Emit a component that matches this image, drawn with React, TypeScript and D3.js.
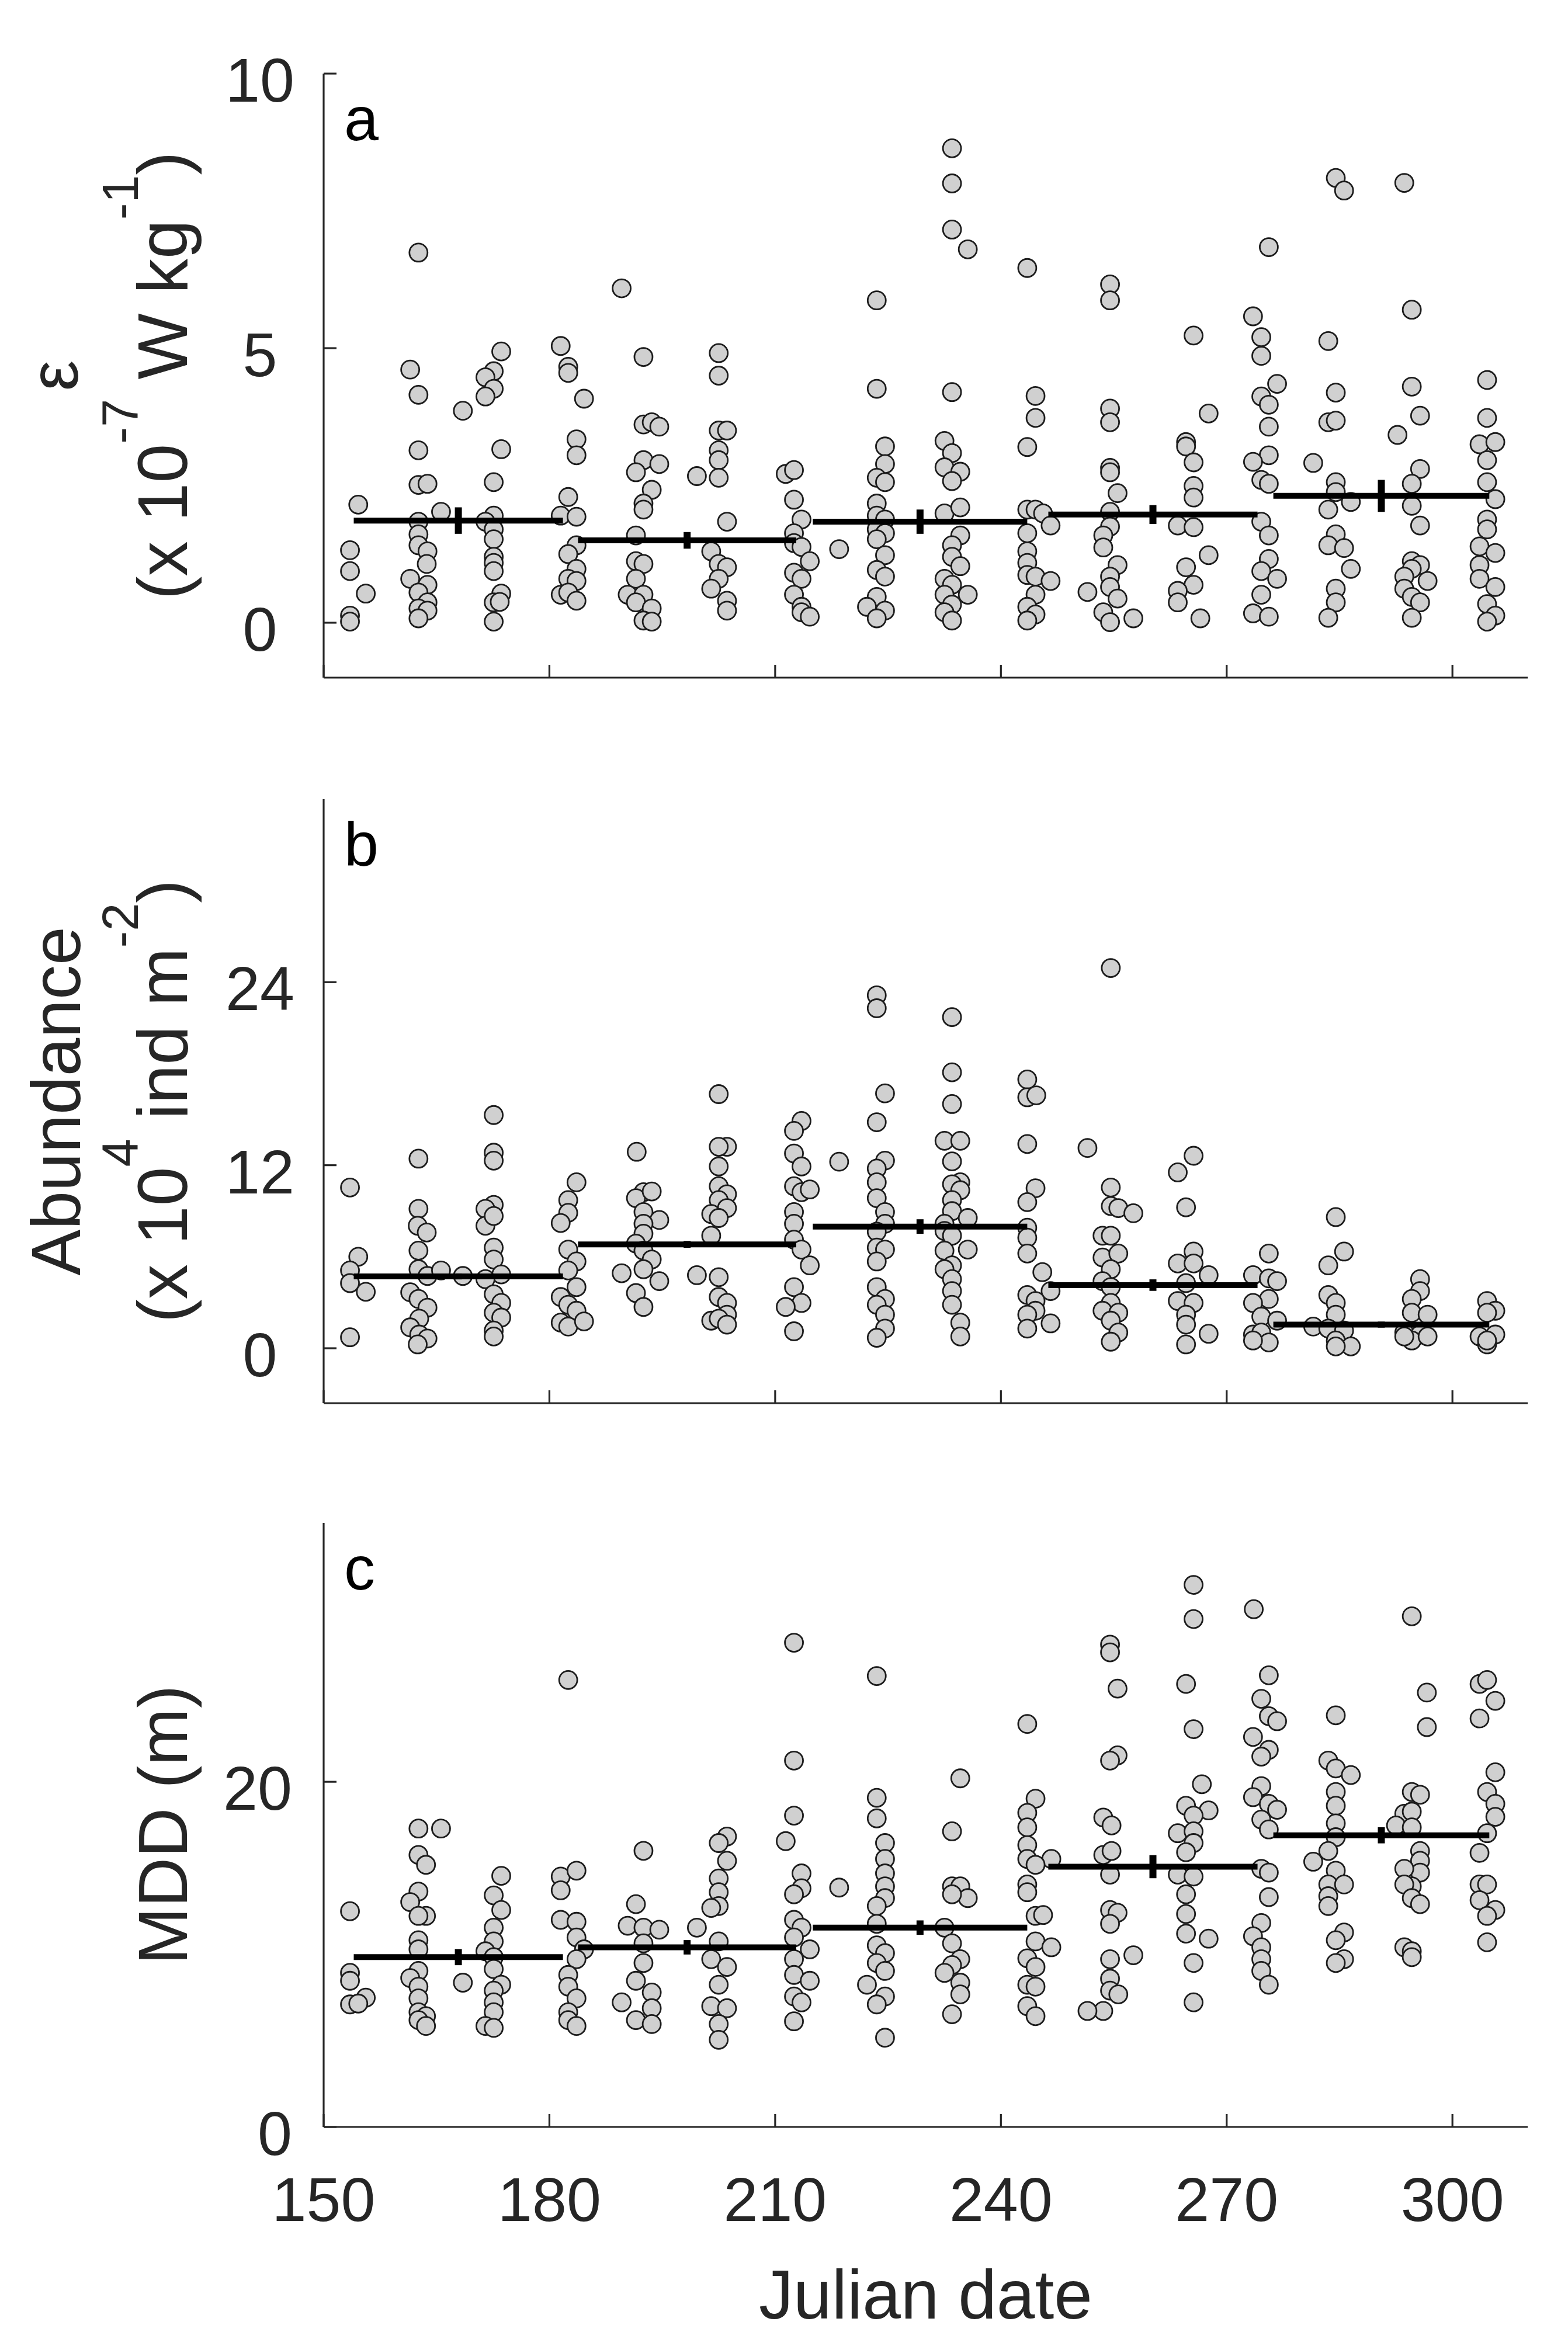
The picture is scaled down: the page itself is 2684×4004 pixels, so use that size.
import React from "react";
import * as d3 from "d3";

// month groups (Julian date span of each mean line)
const segStart = [154, 183.8, 215, 246.3, 276.2];
const segEnd = [181.8, 212.8, 243.5, 274.1, 304.9];

// panel a: dissipation rate (x 1e-7 W/kg)
const epsPoints: [number, number][] = [
  [154.6, 2.15], [153.5, 1.32], [153.5, 0.94], [155.6, 0.53], [153.5, 0.13], [153.5, 0.02],
  [162.6, 6.74], [161.5, 4.61], [162.6, 4.15], [162.6, 3.14], [162.6, 2.51], [163.8, 2.53], [162.6, 1.84], [162.6, 1.61], [162.6, 1.41], [163.8, 1.3], [163.7, 1.07], [161.5, 0.8], [163.8, 0.69], [162.6, 0.55], [163.8, 0.37], [162.6, 0.26], [163.8, 0.22], [162.6, 0.08],
  [165.6, 2.02], [168.5, 3.86],
  [173.6, 4.94], [172.6, 4.58], [171.5, 4.47], [172.6, 4.26], [171.5, 4.12], [173.6, 3.16], [172.6, 2.56], [172.6, 1.95], [171.5, 1.84], [172.6, 1.7], [172.6, 1.52], [172.6, 1.2], [172.6, 1.09], [172.6, 0.94], [173.6, 0.53], [172.6, 0.37], [173.4, 0.38], [172.6, 0.02],
  [181.5, 5.04], [182.5, 4.66], [182.5, 4.55], [184.6, 4.08], [183.6, 3.34], [183.6, 3.05], [182.5, 2.29], [181.5, 1.95], [183.6, 1.93], [183.6, 1.41], [182.5, 1.25], [183.6, 0.98], [182.5, 0.8], [183.6, 0.76], [181.5, 0.51], [182.5, 0.55], [183.6, 0.4],
  [189.6, 6.09], [192.5, 4.84], [192.5, 3.61], [193.6, 3.65], [194.6, 3.57], [192.5, 2.96], [194.6, 2.89], [191.5, 2.74], [193.6, 2.42], [192.5, 2.17], [192.5, 2.06], [191.5, 1.59], [191.5, 1.12], [192.5, 1.07], [191.5, 0.8], [190.4, 0.51], [192.5, 0.51], [191.5, 0.37], [193.6, 0.26], [192.5, 0.04], [193.6, 0.02],
  [199.6, 2.67], [202.5, 4.91], [202.5, 4.5], [202.5, 3.5], [203.6, 3.5], [202.5, 3.14], [202.5, 2.96], [202.5, 2.64], [203.6, 1.84], [201.5, 1.3], [202.5, 1.07], [203.6, 1.01], [202.5, 0.8], [201.5, 0.62], [203.6, 0.4], [203.6, 0.22],
  [211.4, 2.71], [212.5, 2.78], [212.5, 2.24], [213.5, 1.88], [212.5, 1.63], [212.5, 1.45], [213.5, 1.38], [214.6, 1.12], [212.5, 0.91], [213.5, 0.8], [212.5, 0.51], [213.5, 0.29], [213.5, 0.19], [214.6, 0.11], [218.5, 1.34],
  [223.5, 5.87], [223.5, 4.26], [224.6, 3.21], [224.6, 2.89], [223.5, 2.64], [224.6, 2.56], [223.5, 2.17], [223.5, 1.95], [224.6, 1.88], [223.5, 1.7], [224.6, 1.63], [223.5, 1.52], [224.6, 1.23], [223.5, 0.96], [224.6, 0.84], [223.5, 0.47], [222.2, 0.29], [224.6, 0.22], [223.5, 0.08],
  [233.5, 8.64], [233.5, 8.0], [233.5, 7.16], [235.6, 6.8], [233.5, 4.2], [232.5, 3.31], [233.5, 3.09], [232.5, 2.83], [234.6, 2.75], [233.5, 2.58], [232.5, 1.99], [234.6, 2.1], [234.6, 1.59], [233.5, 1.41], [233.5, 1.2], [234.6, 1.03], [232.5, 0.8], [233.5, 0.69], [235.6, 0.51], [232.5, 0.51], [233.5, 0.33], [232.5, 0.19], [233.5, 0.04],
  [243.5, 6.46], [244.6, 4.13], [244.6, 3.73], [243.5, 3.2], [243.5, 2.06], [244.6, 2.06], [245.6, 1.99], [246.6, 1.77], [243.5, 1.63], [243.5, 1.3], [243.5, 1.09], [243.5, 0.87], [244.6, 0.84], [246.6, 0.76], [244.6, 0.51], [243.5, 0.29], [244.6, 0.15], [243.5, 0.04],
  [254.5, 6.16], [254.5, 5.87], [254.5, 3.9], [254.5, 3.65], [254.5, 2.82], [254.5, 2.74], [255.5, 2.36], [254.5, 2.02], [254.5, 1.75], [253.6, 1.59], [253.6, 1.37], [255.5, 1.05], [254.5, 0.84], [251.5, 0.56], [254.5, 0.65], [255.5, 0.44], [253.6, 0.19], [254.5, 0.01], [257.6, 0.08],
  [265.6, 5.23], [267.6, 3.81], [264.6, 3.29], [264.6, 3.21], [265.6, 2.92], [265.6, 2.49], [265.6, 2.28], [263.5, 1.77], [265.6, 1.74], [267.6, 1.23], [264.6, 1.01], [265.6, 0.69], [263.5, 0.58], [263.5, 0.37], [266.5, 0.08],
  [275.6, 6.84], [273.5, 5.58], [274.6, 5.2], [274.6, 4.86], [276.7, 4.35], [274.6, 4.12], [275.6, 3.97], [275.6, 3.57], [275.6, 3.05], [273.5, 2.93], [274.6, 2.6], [275.6, 2.53], [274.6, 1.84], [275.6, 1.59], [275.6, 1.16], [274.6, 0.94], [276.7, 0.8], [274.6, 0.51], [273.5, 0.17], [275.6, 0.11],
  [281.5, 2.91], [284.5, 8.1], [285.6, 7.87], [283.5, 5.13], [284.5, 4.19], [283.5, 3.65], [284.5, 3.68], [284.5, 2.56], [284.5, 2.38], [286.5, 2.2], [283.5, 2.06], [284.5, 1.61], [283.5, 1.41], [285.6, 1.36], [286.5, 0.98], [284.5, 0.62], [284.5, 0.37], [283.5, 0.09],
  [293.6, 8.01], [294.6, 5.7], [294.6, 4.3], [295.7, 3.77], [292.7, 3.42], [295.7, 2.8], [294.6, 2.53], [294.6, 2.13], [295.7, 1.77], [294.6, 1.12], [295.7, 1.05], [294.6, 0.98], [293.6, 0.84], [296.7, 0.76], [293.6, 0.62], [294.6, 0.47], [295.7, 0.37], [294.6, 0.09],
  [304.6, 4.42], [304.6, 3.73], [303.6, 3.25], [305.7, 3.29], [304.6, 2.96], [304.6, 2.56], [305.7, 2.25], [304.6, 1.88], [304.6, 1.7], [303.6, 1.39], [305.7, 1.27], [303.6, 1.05], [303.6, 0.8], [305.7, 0.65], [304.6, 0.34], [305.7, 0.13], [304.6, 0.02],
];
const epsMean = [1.86, 1.5, 1.84, 1.97, 2.31];
const epsSe = [0.22, 0.13, 0.2, 0.15, 0.27];

// panel b: abundance (x 1e4 ind/m2)
const abPoints: [number, number][] = [
  [153.5, 10.54], [154.6, 6.0], [153.5, 5.1], [153.5, 4.27], [155.6, 3.7], [153.5, 0.72],
  [162.6, 12.43], [162.6, 9.14], [162.5, 8.03], [163.7, 7.59], [162.6, 6.4], [162.6, 5.18], [163.8, 4.74], [161.5, 3.67], [162.6, 3.23], [163.8, 2.66], [162.7, 1.94], [161.5, 1.37], [162.7, 0.9], [163.8, 0.64], [162.5, 0.25],
  [165.6, 5.1], [168.5, 4.74],
  [172.6, 15.29], [172.6, 12.82], [172.6, 12.3], [172.6, 9.4], [171.5, 9.14], [171.5, 8.03], [172.6, 8.67], [172.6, 6.6], [172.6, 5.82], [173.6, 4.84], [171.5, 4.53], [172.6, 3.54], [173.6, 2.97], [172.6, 2.33], [173.6, 2.01], [172.6, 1.16], [172.6, 0.77],
  [183.6, 10.88], [182.5, 9.71], [182.5, 8.88], [181.5, 8.21], [182.5, 6.47], [183.6, 5.69], [182.5, 5.1], [183.6, 4.01], [181.5, 3.36], [182.5, 2.85], [183.6, 2.46], [181.5, 1.68], [182.5, 1.42], [184.6, 1.76],
  [191.6, 12.88], [192.5, 10.23], [191.5, 9.84], [193.6, 10.28], [192.5, 8.93], [194.6, 8.41], [192.5, 8.16], [192.5, 7.51], [191.5, 6.86], [192.5, 6.4], [193.6, 5.82], [189.6, 4.92], [192.5, 5.18], [194.6, 4.4], [191.5, 3.62], [192.5, 2.71],
  [202.5, 16.66], [203.6, 13.21], [202.5, 13.21], [202.5, 11.92], [202.5, 10.62], [203.6, 10.1], [202.5, 9.71], [203.6, 9.19], [201.5, 8.8], [202.5, 8.54], [201.5, 7.38], [199.6, 4.79], [202.5, 4.66], [202.5, 3.36], [203.6, 2.97], [203.6, 2.2], [201.5, 1.81], [202.5, 1.94], [203.6, 1.55],
  [213.5, 14.9], [212.5, 14.25], [212.5, 12.77], [213.5, 11.92], [212.5, 10.62], [213.5, 10.23], [214.6, 10.41], [212.5, 8.93], [212.5, 8.16], [212.5, 7.12], [213.5, 6.47], [214.6, 5.43], [212.5, 4.01], [213.5, 2.97], [211.4, 2.71], [212.5, 1.11], [218.5, 12.23],
  [223.5, 23.14], [223.5, 22.29], [224.6, 16.71], [223.5, 14.82], [224.6, 12.3], [223.5, 11.78], [223.5, 10.88], [223.5, 9.84], [224.6, 8.93], [224.6, 8.16], [223.5, 7.64], [223.5, 6.6], [224.6, 6.47], [223.5, 5.69], [223.5, 4.01], [224.6, 3.23], [223.5, 2.85], [224.6, 2.2], [224.6, 1.29], [223.5, 0.69],
  [233.5, 21.71], [233.5, 18.09], [233.5, 16.01], [232.5, 13.6], [234.6, 13.6], [233.5, 12.25], [234.6, 10.88], [233.5, 10.75], [234.6, 10.36], [233.5, 9.71], [233.5, 8.99], [235.6, 8.54], [232.5, 8.16], [232.5, 7.69], [233.5, 7.38], [235.6, 6.47], [232.5, 6.4], [233.5, 5.43], [232.5, 5.18], [233.5, 4.53], [233.5, 3.75], [233.5, 2.85], [234.6, 1.68], [234.6, 0.77],
  [243.5, 17.62], [243.5, 16.45], [244.7, 16.58], [243.5, 13.39], [244.6, 10.49], [243.5, 9.58], [243.5, 7.9], [243.5, 7.25], [243.5, 6.21], [245.5, 4.99], [246.6, 3.75], [243.5, 3.49], [244.6, 3.1], [244.6, 2.46], [243.5, 2.2], [246.6, 1.63], [243.5, 1.29],
  [254.6, 24.93], [251.5, 13.13], [254.6, 10.54], [254.6, 9.32], [255.6, 9.19], [257.6, 8.85], [253.5, 7.38], [254.6, 7.38], [253.5, 5.95], [255.6, 6.21], [254.6, 5.18], [253.5, 4.4], [254.6, 4.01], [254.6, 2.97], [253.5, 2.46], [255.6, 2.33], [254.6, 1.81], [255.6, 1.03], [254.6, 0.43],
  [265.6, 12.62], [263.5, 11.53], [264.6, 9.24], [265.6, 6.34], [263.5, 5.56], [265.6, 5.56], [267.6, 4.79], [264.6, 4.27], [263.5, 3.1], [265.6, 2.97], [264.6, 2.2], [264.6, 1.55], [267.6, 0.95], [264.6, 0.25],
  [275.6, 6.21], [273.5, 4.79], [275.6, 4.58], [276.7, 4.4], [275.6, 3.23], [273.5, 2.97], [274.6, 2.07], [276.7, 1.81], [273.5, 0.9], [274.6, 1.03], [275.6, 0.38], [273.5, 0.51],
  [284.5, 8.6], [285.6, 6.34], [283.5, 5.43], [283.5, 3.49], [284.5, 2.97], [284.5, 2.2], [281.5, 1.42], [283.5, 1.29], [285.6, 1.16], [284.5, 0.51], [286.5, 0.12], [284.5, 0.12],
  [295.7, 4.53], [295.7, 3.75], [294.6, 3.23], [294.6, 2.33], [296.7, 2.2], [293.6, 1.03], [295.7, 0.9], [294.6, 0.51], [296.7, 0.77], [293.6, 0.77],
  [304.6, 3.1], [305.7, 2.46], [304.6, 2.33], [303.6, 0.77], [305.7, 0.9], [304.6, 0.25], [304.6, 0.51],
];
const abMean = [4.71, 6.81, 7.98, 4.14, 1.55];
const abSe = [0.12, 0.15, 0.4, 0.3, 0.12];

// panel c: mean daytime depth (m)
const mddPoints: [number, number][] = [
  [153.5, 12.5], [153.5, 8.93], [153.5, 8.47], [153.5, 7.1], [155.6, 7.49], [154.6, 7.15],
  [162.6, 17.29], [165.6, 17.29], [162.6, 15.76], [163.6, 15.19], [162.6, 13.64], [161.5, 13.03], [163.6, 12.23], [162.6, 12.23], [162.6, 10.82], [162.6, 10.29], [162.6, 9.04], [161.5, 8.63], [162.6, 8.13], [162.6, 7.45], [162.6, 6.65], [163.6, 6.42], [162.6, 6.19], [163.6, 5.85], [168.5, 8.36],
  [173.6, 14.55], [172.6, 13.42], [173.6, 12.57], [172.6, 11.55], [172.6, 10.75], [171.5, 10.18], [172.6, 9.84], [172.6, 9.15], [173.6, 8.24], [172.6, 7.9], [172.6, 7.22], [172.6, 6.65], [171.5, 5.85], [172.6, 5.74],
  [182.5, 25.9], [181.5, 14.51], [183.6, 14.85], [181.5, 13.71], [181.5, 12.0], [183.6, 11.89], [183.6, 10.98], [184.6, 10.29], [183.6, 9.72], [182.5, 8.81], [182.5, 8.13], [183.6, 7.45], [182.5, 6.65], [182.5, 6.19], [183.6, 5.85],
  [192.5, 16.0], [191.5, 12.91], [190.4, 11.66], [192.5, 11.55], [194.6, 11.43], [192.5, 10.64], [192.5, 9.5], [191.5, 8.47], [193.6, 7.79], [189.6, 7.22], [193.6, 6.88], [191.5, 6.19], [193.6, 5.96],
  [199.6, 11.55], [203.6, 16.83], [202.5, 16.45], [203.6, 15.42], [202.5, 14.4], [202.5, 13.6], [202.5, 12.8], [201.5, 12.69], [202.5, 10.75], [201.5, 9.72], [203.6, 9.27], [202.5, 8.24], [201.5, 7.0], [203.6, 6.88], [202.5, 5.96], [202.5, 5.05],
  [212.5, 28.06], [212.5, 21.23], [212.5, 18.04], [211.4, 16.56], [213.5, 14.69], [213.5, 13.83], [212.5, 13.48], [212.5, 12.0], [213.5, 11.55], [212.5, 10.98], [214.6, 10.29], [212.5, 9.72], [212.5, 8.81], [214.6, 8.47], [212.5, 7.56], [213.5, 7.22], [212.5, 6.12], [218.5, 13.87],
  [223.5, 26.13], [223.5, 19.07], [223.5, 17.88], [224.6, 16.45], [224.6, 15.53], [224.6, 14.69], [224.6, 13.94], [224.6, 13.26], [223.5, 12.8], [223.5, 11.77], [223.5, 10.52], [224.6, 10.07], [223.5, 9.5], [224.6, 9.04], [222.2, 8.24], [224.6, 7.56], [223.5, 7.1], [224.6, 5.17],
  [234.6, 20.2], [233.5, 17.13], [233.5, 13.94], [234.6, 13.94], [235.6, 13.26], [233.5, 13.48], [232.5, 11.55], [233.5, 10.64], [234.6, 9.72], [233.5, 9.38], [232.5, 8.93], [234.6, 8.36], [234.6, 7.68], [233.5, 6.53],
  [243.5, 23.35], [244.6, 19.02], [243.5, 18.2], [243.5, 17.36], [243.5, 16.33], [243.5, 15.53], [246.7, 15.53], [244.6, 15.19], [243.5, 14.05], [243.5, 13.6], [244.6, 12.23], [245.6, 12.28], [244.6, 10.75], [246.7, 10.41], [243.5, 9.77], [244.6, 9.27], [243.5, 8.24], [244.6, 8.13], [243.5, 7.0], [244.6, 6.42],
  [254.5, 27.95], [254.5, 27.5], [255.5, 25.4], [255.5, 21.53], [254.5, 21.23], [253.6, 17.93], [254.7, 17.47], [253.6, 15.76], [254.7, 15.99], [254.5, 14.62], [254.5, 12.57], [255.5, 12.41], [254.5, 11.77], [254.5, 9.72], [257.6, 9.95], [254.5, 8.59], [254.5, 7.9], [255.6, 7.68], [253.6, 6.72], [251.5, 6.72],
  [265.6, 31.41], [265.6, 29.43], [264.6, 25.67], [265.6, 23.05], [266.7, 19.86], [264.6, 18.61], [267.6, 18.34], [265.6, 18.04], [263.5, 17.02], [265.6, 17.13], [265.6, 16.45], [264.6, 15.92], [263.5, 14.62], [265.6, 14.51], [264.6, 13.48], [264.6, 12.34], [264.6, 11.2], [267.6, 10.91], [265.6, 9.5], [265.6, 7.22],
  [273.6, 30.0], [275.6, 26.17], [274.6, 24.81], [275.6, 23.8], [276.7, 23.51], [273.5, 22.6], [275.6, 21.85], [274.6, 21.46], [274.6, 19.75], [273.5, 19.11], [275.6, 18.72], [276.7, 18.38], [274.6, 17.81], [275.6, 17.24], [274.6, 14.96], [275.6, 14.74], [275.6, 13.32], [274.6, 11.82], [273.5, 11.05], [274.6, 10.41], [274.6, 9.72], [274.6, 9.04], [275.6, 8.24],
  [284.5, 23.85], [283.5, 21.23], [284.5, 20.77], [286.5, 20.39], [284.5, 19.41], [284.5, 18.61], [284.5, 17.59], [284.5, 16.79], [281.5, 15.37], [283.5, 15.99], [284.5, 14.85], [283.5, 14.05], [285.6, 14.05], [283.5, 13.37], [283.5, 12.8], [285.6, 11.27], [284.5, 10.82], [285.6, 9.72], [284.5, 9.5],
  [294.6, 29.59], [296.6, 25.17], [296.6, 23.17], [294.6, 19.41], [295.7, 19.25], [293.6, 18.15], [294.6, 18.27], [292.5, 17.47], [294.6, 17.36], [295.7, 15.99], [295.7, 15.42], [295.7, 14.74], [293.6, 14.96], [294.6, 13.94], [293.6, 14.05], [294.6, 13.26], [295.7, 12.91], [293.6, 10.41], [294.6, 10.18], [294.6, 9.84],
  [303.6, 25.67], [304.6, 25.9], [305.7, 24.69], [303.6, 23.67], [305.7, 20.55], [304.6, 19.41], [305.7, 18.72], [305.7, 17.97], [304.6, 17.02], [303.6, 15.88], [303.6, 14.05], [304.6, 14.05], [303.6, 13.14], [305.7, 12.57], [304.6, 12.23], [304.6, 10.7],
];
const mddMean = [9.84, 10.41, 11.55, 15.08, 16.9];
const mddSe = [0.4, 0.35, 0.35, 0.6, 0.4];

const xTicks = [150, 180, 210, 240, 270, 300];

const W = 2684;
const H = 4004;
const FONT = "'Liberation Sans', Arial, Helvetica, sans-serif";
const AXIS = "#262626";
const tickFont = 106;
const labelFont = 118;
const panelH = 1034;
const tickLen = 22;

const x = d3.scaleLinear().domain([150, 310]).range([554, 2615]);

const Panel = (props) => {
  const { top, domain, ticks, points, means, se, letter, tickAnchor, tickX, xLabels } = props;
  const y = d3.scaleLinear().domain(domain).range([top + panelH, top]);
  const [x0, x1] = x.range();
  const yb = top + panelH;

  return (
    <g>
      {/* axes */}
      <line x1={x0} x2={x0} y1={top} y2={yb} stroke={AXIS} strokeWidth={3.2} />
      <line x1={x0} x2={x1} y1={yb} y2={yb} stroke={AXIS} strokeWidth={3.2} />
      {ticks.map((t) => (
        <g key={t}>
          <line x1={x0} x2={x0 + tickLen} y1={y(t)} y2={y(t)} stroke={AXIS} strokeWidth={3.2} />
          <text
            x={tickX}
            y={y(t) + 10 + tickFont * 0.358}
            textAnchor={tickAnchor}
            fontSize={tickFont}
            fill={AXIS}
          >
            {t}
          </text>
        </g>
      ))}
      {xTicks.map((t) => (
        <g key={t}>
          <line x1={x(t)} x2={x(t)} y1={yb} y2={yb - tickLen} stroke={AXIS} strokeWidth={3.2} />
          {xLabels && (
            <text x={x(t)} y={3802} textAnchor="middle" fontSize={tickFont} fill={AXIS}>
              {t}
            </text>
          )}
        </g>
      ))}

      {/* samples */}
      {points.map((p, i) => (
        <circle
          key={i}
          cx={x(p[0])}
          cy={y(p[1])}
          r={15.5}
          fill="#d0d0d0"
          stroke="#1c1c1c"
          strokeWidth={2.8}
        />
      ))}

      {/* monthly means with standard error */}
      {means.map((m, i) => {
        const mid = (segStart[i] + segEnd[i]) / 2;
        return (
          <g key={i}>
            <line
              x1={x(segStart[i])}
              x2={x(segEnd[i])}
              y1={y(m)}
              y2={y(m)}
              stroke="#000"
              strokeWidth={10}
            />
            <line
              x1={x(mid)}
              x2={x(mid)}
              y1={y(m - se[i]) + 2}
              y2={y(m + se[i]) - 2}
              stroke="#000"
              strokeWidth={12}
            />
          </g>
        );
      })}

      <text x={589} y={top + 114} fontSize={tickFont} fill="#000">
        {letter}
      </text>
    </g>
  );
};

const supShift = 84;
const supSize = 0.72;

export default function App() {
  const tops = [126, 1368, 2607];
  const centers = tops.map((t) => t + panelH / 2);
  const f2 = 120;

  return (
    <>
      <style>{"body{margin:0;background:#fff}"}</style>
      <svg width={W} height={H} style={{ display: "block", fontFamily: FONT }}>
        <rect width={W} height={H} fill="#fff" />

        <Panel
          top={tops[0]}
          domain={[-1, 10]}
          ticks={[0, 5, 10]}
          points={epsPoints}
          means={epsMean}
          se={epsSe}
          letter="a"
          tickAnchor="middle"
          tickX={445}
        />
        <Panel
          top={tops[1]}
          domain={[-3.6, 36]}
          ticks={[0, 12, 24]}
          points={abPoints}
          means={abMean}
          se={abSe}
          letter="b"
          tickAnchor="middle"
          tickX={445}
        />
        <Panel
          top={tops[2]}
          domain={[0, 35]}
          ticks={[0, 20]}
          points={mddPoints}
          means={mddMean}
          se={mddSe}
          letter="c"
          tickAnchor="end"
          tickX={500}
          xLabels
        />

        {/* y labels */}
        <g fill={AXIS} textAnchor="middle">
          <text transform={`translate(133,${centers[0]}) rotate(-90)`} fontSize={labelFont}>
            ε
          </text>
          <text transform={`translate(320,${centers[0]}) rotate(-90)`} fontSize={f2}>
            <tspan>(x 10</tspan>
            <tspan dy={-supShift} fontSize={f2 * supSize}>-7</tspan>
            <tspan dy={supShift}> W kg</tspan>
            <tspan dy={-supShift} fontSize={f2 * supSize}>-1</tspan>
            <tspan dy={supShift}>)</tspan>
          </text>

          <text transform={`translate(137,${centers[1]}) rotate(-90)`} fontSize={labelFont}>
            Abundance
          </text>
          <text transform={`translate(320,${centers[1]}) rotate(-90)`} fontSize={f2}>
            <tspan>(x 10</tspan>
            <tspan dy={-supShift} fontSize={f2 * supSize}>4</tspan>
            <tspan dy={supShift}> ind m</tspan>
            <tspan dy={-supShift} fontSize={f2 * supSize}>-2</tspan>
            <tspan dy={supShift}>)</tspan>
          </text>

          <text transform={`translate(320,${centers[2]}) rotate(-90)`} fontSize={labelFont}>
            MDD (m)
          </text>

          <text x={(x.range()[0] + x.range()[1]) / 2} y={3969} fontSize={labelFont}>
            Julian date
          </text>
        </g>
      </svg>
    </>
  );
}
